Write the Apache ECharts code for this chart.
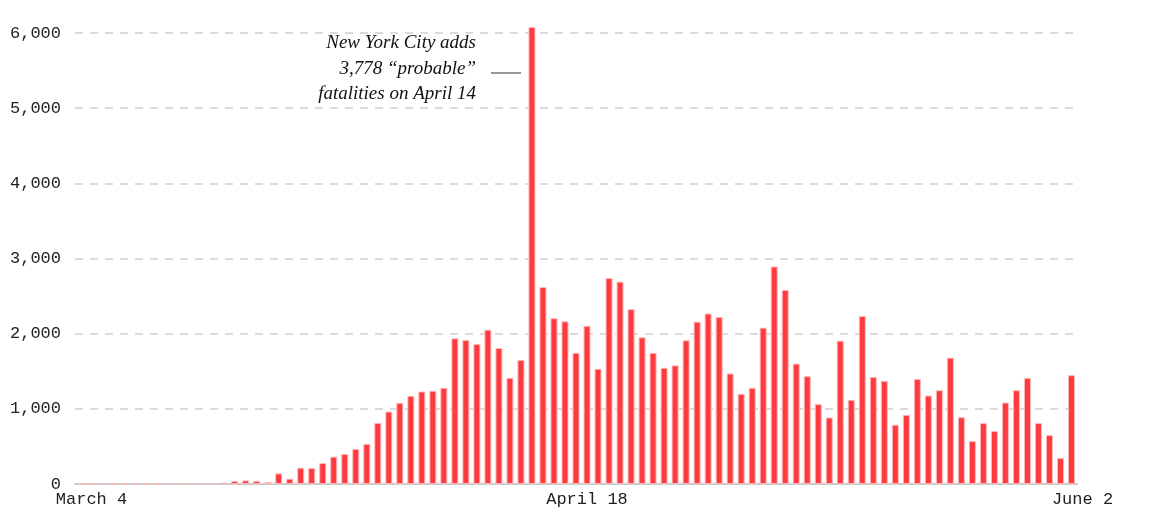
<!DOCTYPE html>
<html>
<head>
    <meta charset='utf-8'/>
    <title>Daily deaths</title>
    <style>
        body {
            margin: 0;
            padding: 0;
            background: #fff;
        }

        #chart {
            width: 1157px;
            height: 532px;
        }
    </style>
</head>
<body>
<div id='chart'></div>
<script src="https://cdn.jsdelivr.net/npm/echarts@6/dist/echarts.min.js"></script>
<script type="text/javascript">
    // daily deaths, March 4 to June 2
    var startDate = new Date(2020, 2, 4);
    var deaths = [
        10, 2, 5, 3, 5, 5, 5, 5, 5, 10,
        10, 10, 15, 18, 40, 48, 42, 25, 141, 70,
        217, 212, 279, 364, 400, 467, 533, 813, 964, 1080,
        1173, 1231, 1240, 1280, 1938, 1916, 1862, 2053, 1809, 1413,
        1649, 6080, 2619, 2205, 2164, 1745, 2105, 1533, 2741, 2692,
        2326, 1952, 1745, 1546, 1578, 1912, 2160, 2268, 2223, 1470,
        1200, 1280, 2080, 2894, 2580, 1602, 1434, 1062, 885, 1907,
        1119, 2235, 1425, 1372, 788, 920, 1398, 1177, 1248, 1681,
        889, 571, 810, 704, 1084, 1248, 1412, 810, 650, 345,
        1447
    ];
    var tickDays = [0, 45, 90];
    var tickLabels = ['March 4', 'April 18', 'June 2'];
    var noteLines = ['New York City adds', '3,778 \u201cprobable\u201d', 'fatalities on April 14'];

    var days = [];
    for (var i = 0; i < deaths.length; i++) {
        var d = new Date(startDate.getTime());
        d.setDate(d.getDate() + i);
        days.push(d.toISOString().slice(0, 10));
    }

    var chart = echarts.init(document.getElementById('chart'));

    // annotation next to the April 14 spike, one text per line so each is right aligned
    var note = noteLines.map(function (line, k) {
        return {
            type: 'text',
            x: 476,
            y: 43 + k * 25.5,
            style: {
                text: line,
                align: 'right',
                verticalAlign: 'middle',
                fill: '#111',
                font: 'italic 19px "Liberation Serif"'
            }
        };
    });
    note.push({
        type: 'line',
        shape: {x1: 491, y1: 73, x2: 521, y2: 73},
        style: {stroke: '#999', lineWidth: 2}
    });

    var option = {
        animation: false,
        grid: {
            left: 75,
            right: 80,
            top: 33,
            bottom: 48
        },
        xAxis: {
            type: 'category',
            data: days,
            boundaryGap: true,
            axisLine: {
                lineStyle: {color: '#cccccc', width: 2}
            },
            axisTick: {show: false},
            axisLabel: {
                interval: function (index) {
                    return tickDays.indexOf(index) >= 0;
                },
                formatter: function (value, index) {
                    var k = tickDays.indexOf(index);
                    return k >= 0 ? tickLabels[k] : '';
                },
                margin: 7,
                padding: [0, 0, 0, 22],
                color: '#222',
                fontFamily: 'Liberation Mono',
                fontSize: 17
            }
        },
        yAxis: {
            type: 'value',
            min: 0,
            max: 6000,
            interval: 1000,
            axisLine: {show: false},
            axisTick: {show: false},
            axisLabel: {
                margin: 14,
                color: '#222',
                fontFamily: 'Liberation Mono',
                fontSize: 17,
                formatter: function (v) {
                    return v.toLocaleString('en-US');
                }
            },
            splitLine: {
                lineStyle: {
                    color: '#d0d0d0',
                    width: 1.5,
                    type: [8, 7]
                }
            }
        },
        series: [{
            type: 'bar',
            data: deaths,
            barWidth: 7,
            clip: false,
            itemStyle: {
                color: '#fd3b3f',
                borderColor: '#ffb8b8',
                borderWidth: 1
            }
        }],
        graphic: note
    };

    chart.setOption(option);
</script>
</body>
</html>
